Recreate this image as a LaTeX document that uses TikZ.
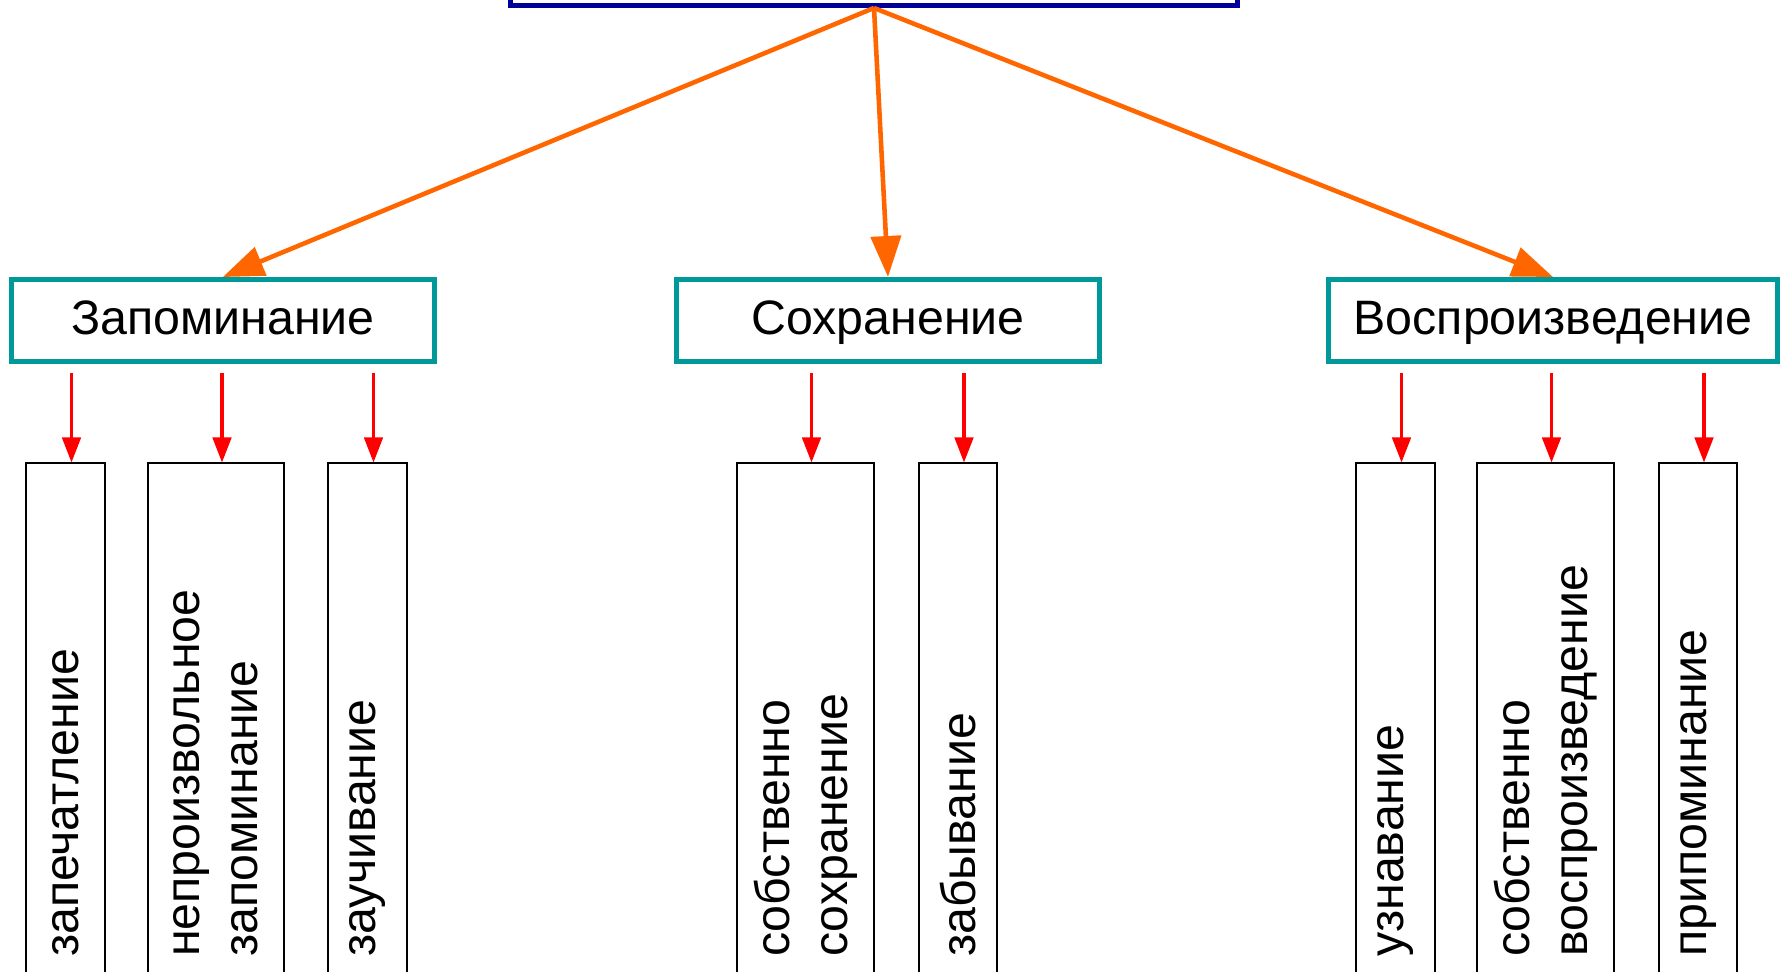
\documentclass[tikz,border=0pt]{standalone}
\usepackage{fontspec}
\setmainfont{Liberation Sans}
\usetikzlibrary{arrows.meta}
\definecolor{myblue}{RGB}{0,0,153}
\definecolor{myteal}{RGB}{0,153,153}
\definecolor{myorange}{RGB}{255,102,0}
\definecolor{myred}{RGB}{255,0,0}

\tikzset{
    every node/.style={font=\fontsize{27.5}{33}\selectfont},
    stage/.style={draw=myteal, line width=2.8pt, minimum width=8.45cm, minimum height=1.64cm, inner sep=0pt,
        text height=0.75cm, text depth=0.2cm},
    leaf/.style={draw=black, line width=1pt, rotate=90, anchor=east, minimum width=10.71cm,
        inner xsep=0.84cm, text width=9.03cm, align=left},
    mainarrow/.style={draw=myorange, line width=2.6pt, -{Triangle[length=0.82cm, width=0.6cm]}},
    subarrow/.style={draw=myred, line width=1.8pt, -{Triangle[length=0.5cm, width=0.37cm]}, shorten <=0.18cm}
}

\begin{document}
\begin{tikzpicture}
    \useasboundingbox (0, 0) rectangle (35.74, 19.44);
    \clip (0, 0) rectangle (35.74, 19.44);
    % Top box (cut by the page edge)
    \node[draw=myblue, line width=2.8pt, minimum width=14.54cm, minimum height=1.5cm, anchor=south] (memory) at (17.48, 19.28) {};
    % Processes
    \node[stage] (zap) at (4.456, 13.03) {Запоминание};
    \node[stage] (sokh) at (17.76, 13.03) {Сохранение};
    \node[stage, minimum width=8.99cm] (vospr) at (31.06, 13.03) {Воспроизведение};
    \draw[mainarrow] (memory.south) -- (zap.north);
    \draw[mainarrow] (memory.south) -- (sokh.north);
    \draw[mainarrow] (memory.south) -- (vospr.north);
    % Kinds of each process
    \node[leaf, minimum height=1.57cm] (zap1) at (1.31, 10.19) {запечатление};
    \node[leaf, minimum height=2.73cm] (zap2) at (4.32, 10.19) {непроизвольное\\запоминание};
    \node[leaf, minimum height=1.57cm] (zap3) at (7.35, 10.19) {заучивание};
    \node[leaf, minimum height=2.73cm] (sokh1) at (16.11, 10.19) {собственно\\сохранение};
    \node[leaf, minimum height=1.57cm] (sokh2) at (19.16, 10.19) {забывание};
    \node[leaf, minimum height=1.57cm] (vospr1) at (27.91, 10.19) {узнавание};
    \node[leaf, minimum height=2.73cm] (vospr2) at (30.91, 10.19) {собственно\\воспроизведение};
    \node[leaf, minimum height=1.57cm] (vospr3) at (33.96, 10.19) {припоминание};
    \draw[subarrow] ([xshift=0.12cm]zap1.east |- zap.south) -- ([xshift=0.12cm]zap1.east);
    \draw[subarrow] ([xshift=0.12cm]zap2.east |- zap.south) -- ([xshift=0.12cm]zap2.east);
    \draw[subarrow] ([xshift=0.12cm]zap3.east |- zap.south) -- ([xshift=0.12cm]zap3.east);
    \draw[subarrow] ([xshift=0.12cm]sokh1.east |- sokh.south) -- ([xshift=0.12cm]sokh1.east);
    \draw[subarrow] ([xshift=0.12cm]sokh2.east |- sokh.south) -- ([xshift=0.12cm]sokh2.east);
    \draw[subarrow] ([xshift=0.12cm]vospr1.east |- vospr.south) -- ([xshift=0.12cm]vospr1.east);
    \draw[subarrow] ([xshift=0.12cm]vospr2.east |- vospr.south) -- ([xshift=0.12cm]vospr2.east);
    \draw[subarrow] ([xshift=0.12cm]vospr3.east |- vospr.south) -- ([xshift=0.12cm]vospr3.east);
\end{tikzpicture}
\end{document}
